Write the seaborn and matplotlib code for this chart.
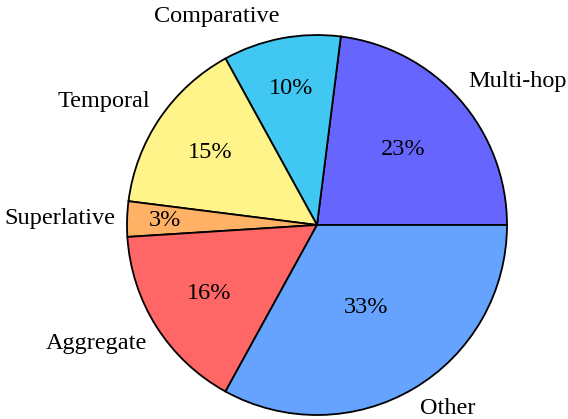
import matplotlib
matplotlib.use("Agg")
import numpy as np
import matplotlib.pyplot as plt
import seaborn as sns

# question types and their share (%)
labels = ["Multi-hop", "Comparative", "Temporal", "Superlative", "Aggregate", "Other"]
shares = [23, 10, 15, 3, 16, 33]
colors = ["#6666FF", "#40C8F2", "#FFF48A", "#FFB266", "#FF6666", "#66A3FF"]

sns.set_style("white")
plt.rcParams["font.family"] = ["Liberation Serif", "DejaVu Serif"]

fig = plt.figure(figsize=(5.68, 4.19), dpi=100)
ax = fig.add_axes([0.2236, 0.0095, 0.669, 0.907])

pal = sns.color_palette(colors)
wedges, texts, autotexts = ax.pie(
    shares, labels=labels, colors=pal, startangle=0, counterclock=True,
    autopct="%1.0f%%", pctdistance=0.6, labeldistance=1.06,
    wedgeprops=dict(edgecolor="black", linewidth=1.3),
    textprops=dict(fontsize=17.5, color="black"),
)

# pgf-pie like placement: small slices push the number outwards,
# outer labels anchored on the corner facing the pie
for w, t, at in zip(wedges, texts, autotexts):
    span = w.theta2 - w.theta1
    mid = np.deg2rad(0.5 * (w.theta1 + w.theta2))
    c, s = np.cos(mid), np.sin(mid)
    r_in = 0.8 - 0.3 * (span - 10) / 110
    at.set_position((r_in * c, r_in * s))
    at.set_ha("center")
    at.set_va("center")
    t.set_position((1.06 * c, 1.06 * s))
    t.set_ha("left" if c > 0.035 else ("right" if c < -0.035 else "center"))
    t.set_va("bottom" if s > 0.035 else ("top" if s < -0.035 else "center"))

ax.set_xlim(-1, 1)
ax.set_ylim(-1, 1)
ax.set_aspect("equal")
ax.set_axis_off()

fig.savefig("out.png", dpi=100)
